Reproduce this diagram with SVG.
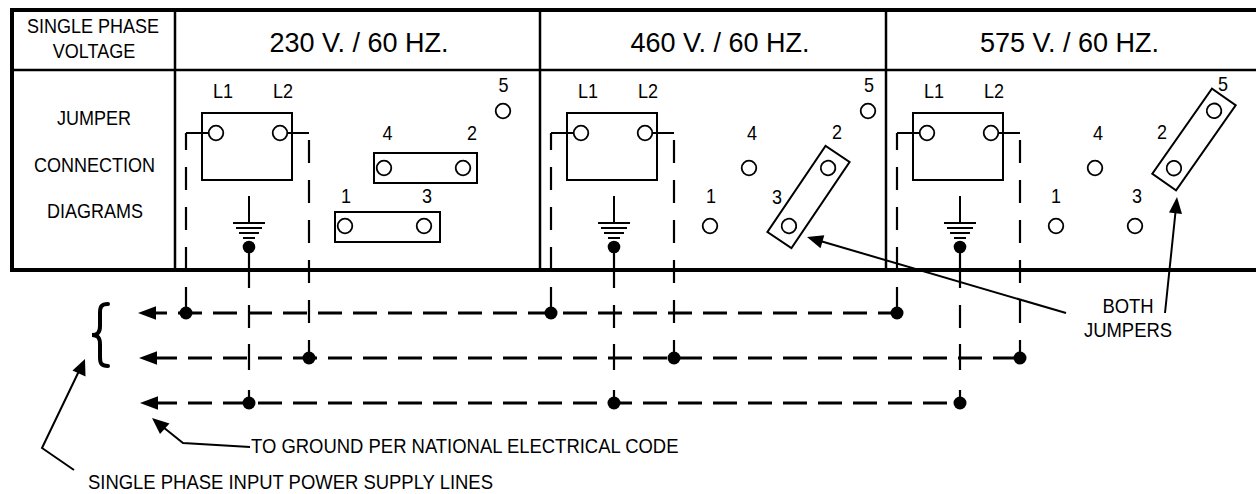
<svg xmlns="http://www.w3.org/2000/svg" width="1256" height="494" viewBox="0 0 1256 494">
<defs>
<style>
text{font-family:"Liberation Sans",Arial,sans-serif;fill:#000}
.s{font-size:20px}
.b{font-size:20.5px}
.h{font-size:28px}
.m{text-anchor:middle}
.frame{stroke:#000;stroke-width:4;fill:none}
.div{stroke:#000;stroke-width:2.5;fill:none}
.ln{stroke:#000;stroke-width:2;fill:none}
.pin{stroke:#000;stroke-width:1.8;fill:#fff}
.wire{stroke:#000;stroke-width:2.2;fill:none;stroke-dasharray:23 17}
.gw{stroke:#000;stroke-width:2.2;fill:none}
.row{stroke:#000;stroke-width:3;fill:none;stroke-dasharray:24 11}
.dot{fill:#000}
.ah{fill:#000}
.brace{stroke:#000;stroke-width:4;fill:none;stroke-linecap:round}
</style>
</defs>
<rect width="1256" height="494" fill="#fff"/>

<g id="table">
<path class="frame" d="M10 10H1256M12 10V272M10 270H1256"/>
<path class="div" stroke-width="3.5" d="M10 70H1256"/>
<path class="div" d="M175 10V270M540 10V270M886 10V270"/>
<text class="s m" transform="translate(93,33) scale(0.9,1)">SINGLE PHASE</text>
<text class="s m" transform="translate(94,58) scale(0.9,1)">VOLTAGE</text>
<text class="h m" transform="translate(359,52) scale(0.965,1)">230 V. / 60 HZ.</text>
<text class="h m" transform="translate(720,52) scale(0.965,1)">460 V. / 60 HZ.</text>
<text class="h m" transform="translate(1069.5,52) scale(0.965,1)">575 V. / 60 HZ.</text>
<text class="s m" transform="translate(94,125) scale(0.9,1)">JUMPER</text>
<text class="s m" transform="translate(94.5,172) scale(0.9,1)">CONNECTION</text>
<text class="s m" transform="translate(95,218) scale(0.9,1)">DIAGRAMS</text>
</g>

<g id="block-230">
<rect class="ln" x="202" y="113" width="90" height="67"/>
<circle class="pin" cx="216" cy="133" r="7.3"/>
<circle class="pin" cx="280" cy="133" r="7.3"/>
<text class="s m" transform="translate(223,98) scale(0.9,1)">L1</text>
<text class="s m" transform="translate(283,98) scale(0.9,1)">L2</text>
<path class="ln" d="M249 196V223M233 223H265M236 228H262M239 233H259M243 238H255"/>
<circle class="dot" cx="249" cy="247" r="6.3"/>
</g>
<g id="jumpers-230">
<rect class="ln" x="374" y="153" width="103" height="30"/>
<rect class="ln" x="335" y="212" width="105" height="30"/>
<circle class="pin" cx="345" cy="226" r="7.3"/>
<circle class="pin" cx="384" cy="168" r="7.3"/>
<circle class="pin" cx="424" cy="226" r="7.3"/>
<circle class="pin" cx="463" cy="168" r="7.3"/>
<circle class="pin" cx="503" cy="111" r="7.3"/>
<text class="s m" transform="translate(346,203) scale(0.9,1)">1</text>
<text class="s m" transform="translate(387.5,140) scale(0.9,1)">4</text>
<text class="s m" transform="translate(427,203) scale(0.9,1)">3</text>
<text class="s m" transform="translate(472,140) scale(0.9,1)">2</text>
<text class="s m" transform="translate(503.5,92) scale(0.9,1)">5</text>
</g>

<g id="block-460" transform="translate(365,0)">
<rect class="ln" x="202" y="113" width="90" height="67"/>
<circle class="pin" cx="216" cy="133" r="7.3"/>
<circle class="pin" cx="280" cy="133" r="7.3"/>
<text class="s m" transform="translate(223,98) scale(0.9,1)">L1</text>
<text class="s m" transform="translate(283,98) scale(0.9,1)">L2</text>
<path class="ln" d="M249 196V223M233 223H265M236 228H262M239 233H259M243 238H255"/>
<circle class="dot" cx="249" cy="247" r="6.3"/>
</g>
<g id="jumpers-460" transform="translate(365,0)">
<circle class="pin" cx="345" cy="226" r="7.3"/>
<circle class="pin" cx="384" cy="168" r="7.3"/>
<circle class="pin" cx="503" cy="111" r="7.3"/>
<g transform="translate(443.5,197) rotate(-56)">
<rect class="ln" x="-52" y="-14.5" width="104" height="29"/>
<circle class="pin" cx="-35" cy="0" r="7.3"/>
<circle class="pin" cx="35" cy="0" r="7.3"/>
</g>
<text class="s m" transform="translate(346,203) scale(0.9,1)">1</text>
<text class="s m" transform="translate(387,140) scale(0.9,1)">4</text>
<text class="s m" transform="translate(412,204) scale(0.9,1)">3</text>
<text class="s m" transform="translate(472,139) scale(0.9,1)">2</text>
<text class="s m" transform="translate(504,92) scale(0.9,1)">5</text>
</g>

<g id="block-575" transform="translate(711,0)">
<rect class="ln" x="202" y="113" width="90" height="67"/>
<circle class="pin" cx="216" cy="133" r="7.3"/>
<circle class="pin" cx="280" cy="133" r="7.3"/>
<text class="s m" transform="translate(223,98) scale(0.9,1)">L1</text>
<text class="s m" transform="translate(283,98) scale(0.9,1)">L2</text>
<path class="ln" d="M249 196V223M233 223H265M236 228H262M239 233H259M243 238H255"/>
<circle class="dot" cx="249" cy="247" r="6.3"/>
</g>
<g id="jumpers-575" transform="translate(711,0)">
<circle class="pin" cx="345" cy="226" r="7.3"/>
<circle class="pin" cx="384" cy="168" r="7.3"/>
<circle class="pin" cx="424" cy="226" r="7.3"/>
<g transform="translate(483,139.5) rotate(-55)">
<rect class="ln" x="-52" y="-14.5" width="104" height="29"/>
<circle class="pin" cx="-35" cy="0" r="7.3"/>
<circle class="pin" cx="35" cy="0" r="7.3"/>
</g>
<text class="s m" transform="translate(345,203) scale(0.9,1)">1</text>
<text class="s m" transform="translate(387,140) scale(0.9,1)">4</text>
<text class="s m" transform="translate(426,203) scale(0.9,1)">3</text>
<text class="s m" transform="translate(451,139) scale(0.9,1)">2</text>
<text class="s m" transform="translate(512,91) scale(0.9,1)">5</text>
</g>

<g id="connectors">
<g id="wires-230">
<path class="ln" d="M208.7 133H186M287.3 133H309"/>
<path class="wire" stroke-dashoffset="6" d="M186 133V313"/>
<path class="wire" stroke-dashoffset="33" d="M309 133V358"/>
<path class="gw" d="M249 247V288M249 305V328M249 344V370M249 390V403"/>
</g>
<g id="wires-460" transform="translate(365,0)">
<path class="ln" d="M208.7 133H186M287.3 133H309"/>
<path class="wire" stroke-dashoffset="6" d="M186 133V313"/>
<path class="wire" stroke-dashoffset="33" d="M309 133V358"/>
<path class="gw" d="M249 247V288M249 305V328M249 344V370M249 390V403"/>
</g>
<g id="wires-575" transform="translate(711,0)">
<path class="ln" d="M208.7 133H186M287.3 133H309"/>
<path class="wire" stroke-dashoffset="6" d="M186 133V313"/>
<path class="wire" stroke-dashoffset="33" d="M309 133V358"/>
<path class="gw" d="M249 247V288M249 305V328M249 344V370M249 390V403"/>
</g>
<path class="row" d="M143 313H897"/>
<path class="row" d="M153 358H1020"/>
<path class="row" d="M153 403H960"/>
<polygon class="ah" points="138,313 156,306.3 156,319.7"/>
<polygon class="ah" points="139,358 157,351.3 157,364.7"/>
<polygon class="ah" points="140,403 158,396.3 158,409.7"/>
<circle class="dot" cx="186" cy="313" r="6.5"/>
<circle class="dot" cx="551" cy="313" r="6.5"/>
<circle class="dot" cx="897" cy="313" r="6.5"/>
<circle class="dot" cx="309" cy="358" r="6.5"/>
<circle class="dot" cx="674" cy="358" r="6.5"/>
<circle class="dot" cx="1020" cy="358" r="6.5"/>
<circle class="dot" cx="249" cy="403" r="6.5"/>
<circle class="dot" cx="614" cy="403" r="6.5"/>
<circle class="dot" cx="960" cy="403" r="6.5"/>
<path class="brace" d="M108 304C101 304 100 307 100 313L100 326C100 332 98 335 92 335C98 335 100 338 100 344L100 357C100 363 101 366 108 366"/>
<path class="ln" d="M822 241.5L1066 313"/>
<polygon class="ah" points="807,237 824.3,235.2 820.5,248.2"/>
<path class="ln" d="M1175.5 212L1165 313"/>
<polygon class="ah" points="1177,197 1182,214 1169,212.6"/>
<path class="ln" d="M163 427L183 443L250 447"/>
<polygon class="ah" points="152,418 169.5,423.5 160,434"/>
<path class="ln" d="M79 371L42 448L74 470"/>
<polygon class="ah" points="85,359 85.5,376.5 72.5,370.5"/>
</g>

<g id="labels">
<text class="b m" transform="translate(1128,313) scale(0.9,1)">BOTH</text>
<text class="b m" transform="translate(1128,337) scale(0.9,1)">JUMPERS</text>
<text class="b" transform="translate(251,453) scale(0.9,1)">TO GROUND PER NATIONAL ELECTRICAL CODE</text>
<text class="b" transform="translate(88,489) scale(0.9,1)">SINGLE PHASE INPUT POWER SUPPLY LINES</text>
</g>
</svg>
